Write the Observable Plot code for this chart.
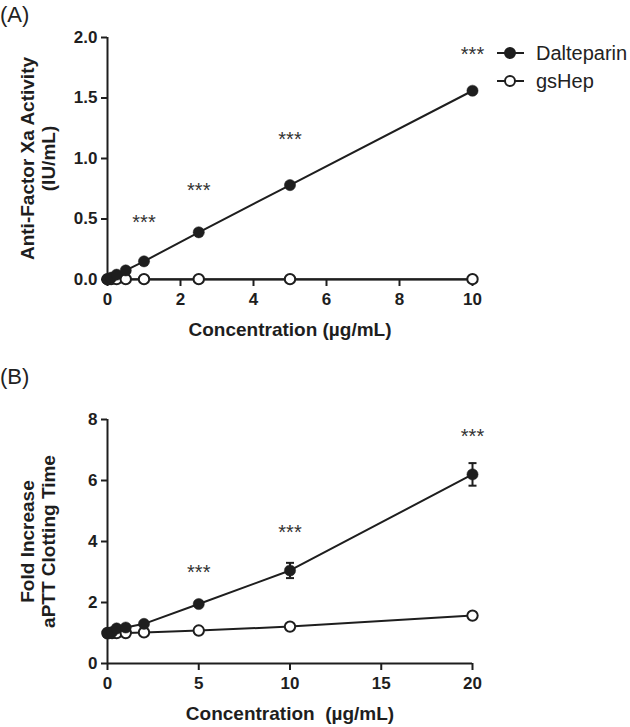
<!DOCTYPE html>
<html>
<head>
<meta charset="utf-8">
<script src="https://cdn.jsdelivr.net/npm/d3@7"></script>
<script src="https://cdn.jsdelivr.net/npm/@observablehq/plot@0.6"></script>
<style>
  body { margin: 0; background: #fff; font-family: "Liberation Sans", Arial, sans-serif; }
  #wrap { position: relative; width: 630px; height: 727px; overflow: hidden; }
  .panel { position: absolute; left: 0; }
  .plabel { position: absolute; left: 0px; font-size: 22px; color: #222; z-index: 2; }
  #legend { position: absolute; left: 494px; top: 39px; font-size: 20px; color: #222; }
  #legend div { display: flex; align-items: center; height: 28px; }
  #legend svg { margin-right: 10px; }
  svg text { white-space: pre; }
</style>
</head>
<body>
<div id="wrap">
  <div class="panel" id="pa" style="top:0px"></div>
  <div class="panel" id="pb" style="top:360px"></div>
  <div class="plabel" style="top:2px">(A)</div>
  <div class="plabel" style="top:364px">(B)</div>
  <div id="legend"></div>
</div>
<script>
// ---------- Data ----------
// Panel A: anti-factor Xa activity (IU/mL)
const concA = [0, 0.1, 0.25, 0.5, 1, 2.5, 5, 10];
const dalteparinA = [0, 0.015, 0.04, 0.075, 0.15, 0.39, 0.78, 1.56];
const gsHepA = [0.003, 0.003, 0.003, 0.003, 0.003, 0.003, 0.003, 0.003];
const starsAx = [1, 2.5, 5, 10];
const starsAy = [0.51, 0.78, 1.2, 1.9];
const xTicksA = [0, 2, 4, 6, 8, 10];
const yTicksA = [0, 0.5, 1, 1.5, 2];

// Panel B: fold increase aPTT clotting time
const concBd = [0, 0.25, 0.5, 1, 2, 5, 10, 20];
const dalteparinB = [0.98, 1.03, 1.15, 1.18, 1.3, 1.95, 3.05, 6.2];
const dalteparinBerr = [0, 0, 0, 0, 0, 0.05, 0.25, 0.37];
const concBg = [0, 0.25, 0.5, 1, 2, 5, 10, 20];
const gsHepB = [1.0, 1.0, 1.0, 1.0, 1.02, 1.08, 1.21, 1.57];
const starsBx = [5, 10, 20];
const starsBy = [3.15, 4.46, 7.6];
const xTicksB = [0, 5, 10, 15, 20];
const yTicksB = [0, 2, 4, 6, 8];

const seriesNames = ["Dalteparin", "gsHep"];
const xTitleA = "Concentration (µg/mL)";
const yTitleA = "Anti-Factor Xa Activity\n(IU/mL)";
const xTitleB = "Concentration\u00a0 (µg/mL)";
const yTitleB = "Fold Increase\naPTT Clotting Time";

// ---------- Helpers ----------
const ink = "#1e1e1e";
const font = "'Liberation Sans', Arial, sans-serif";
const capSymbol = {
  draw(context, size) {
    const r = Math.sqrt(size / Math.PI);
    context.moveTo(-r, 0);
    context.lineTo(r, 0);
  }
};

function makePanel({conc1, vals1, conc2, vals2, err, starsX, starsY, xTicks, yTicks, xDomain, yDomain, fmt, xTitle, yTitle, height, mt, mb}) {
  const d1 = conc1.map((x, i) => ({x, y: vals1[i], e: err ? err[i] : 0}));
  const d2 = conc2.map((x, i) => ({x, y: vals2[i]}));
  const stars = starsX.map((x, i) => ({x, y: starsY[i]}));
  const errs = d1.filter(d => d.e > 0.1);
  return Plot.plot({
    width: 630,
    height,
    marginLeft: 107,
    marginRight: 158,
    marginTop: mt,
    marginBottom: mb,
    style: {fontFamily: font, color: ink, background: "transparent", overflow: "visible"},
    x: {domain: xDomain},
    y: {domain: yDomain},
    marks: [
      Plot.axisX({ticks: xTicks, tickSize: 7, tickPadding: 6, strokeWidth: 2, fontSize: 17, fontWeight: "bold", label: null, fill: ink}),
      Plot.axisY({ticks: yTicks, tickSize: 6, tickPadding: 4, strokeWidth: 2, fontSize: 17, fontWeight: "bold", label: null, tickFormat: fmt, fill: ink}),
      Plot.ruleY([yDomain[0]], {stroke: ink, strokeWidth: 2}),
      Plot.ruleX([xDomain[0]], {stroke: ink, strokeWidth: 2}),
      Plot.line(d2, {x: "x", y: "y", stroke: ink, strokeWidth: 2}),
      Plot.line(d1, {x: "x", y: "y", stroke: ink, strokeWidth: 2}),
      Plot.ruleX(errs, {x: "x", y1: d => d.y - d.e, y2: d => d.y + d.e, stroke: ink, strokeWidth: 2}),
      Plot.dot(errs, {x: "x", y: d => d.y - d.e, symbol: capSymbol, r: 4, stroke: ink, strokeWidth: 2}),
      Plot.dot(errs, {x: "x", y: d => d.y + d.e, symbol: capSymbol, r: 4, stroke: ink, strokeWidth: 2}),
      Plot.dot(d2, {x: "x", y: "y", r: 5.2, fill: "white", stroke: ink, strokeWidth: 2}),
      Plot.dot(d1, {x: "x", y: "y", r: 5.6, fill: ink, stroke: ink, strokeWidth: 0.5}),
      Plot.text(stars, {x: "x", y: "y", text: () => "***", fontSize: 20, fill: "#333", dy: 5}),
      Plot.text([xTitle], {frameAnchor: "bottom", text: d => d, lineAnchor: "middle", dy: 50, fontSize: 19, fontWeight: "bold", fill: ink}),
      Plot.text([yTitle], {frameAnchor: "left", text: d => d, textAnchor: "middle", lineAnchor: "middle", rotate: -90, dx: -70, fontSize: 19, fontWeight: "bold", lineHeight: 1.1, fill: ink})
    ]
  });
}

document.getElementById("pa").append(makePanel({
  conc1: concA, vals1: dalteparinA, conc2: concA, vals2: gsHepA, err: null,
  starsX: starsAx, starsY: starsAy, xTicks: xTicksA, yTicks: yTicksA,
  xDomain: [0, 10], yDomain: [0, 2], fmt: d3.format(".1f"),
  xTitle: xTitleA, yTitle: yTitleA, height: 350, mt: 37, mb: 71
}));

document.getElementById("pb").append(makePanel({
  conc1: concBd, vals1: dalteparinB, conc2: concBg, vals2: gsHepB, err: dalteparinBerr,
  starsX: starsBx, starsY: starsBy, xTicks: xTicksB, yTicks: yTicksB,
  xDomain: [0, 20], yDomain: [0, 8], fmt: d3.format("d"),
  xTitle: xTitleB, yTitle: yTitleB, height: 367, mt: 59, mb: 64
}));

// Legend
const legend = document.getElementById("legend");
seriesNames.forEach((name, i) => {
  const row = document.createElement("div");
  row.innerHTML = `<svg width="32" height="14"><line x1="3" x2="30" y1="7" y2="7" stroke="${ink}" stroke-width="2"/><circle cx="16" cy="7" r="5" fill="${i === 0 ? ink : "white"}" stroke="${ink}" stroke-width="2"/></svg><span>${name}</span>`;
  legend.append(row);
});
</script>
</body>
</html>
